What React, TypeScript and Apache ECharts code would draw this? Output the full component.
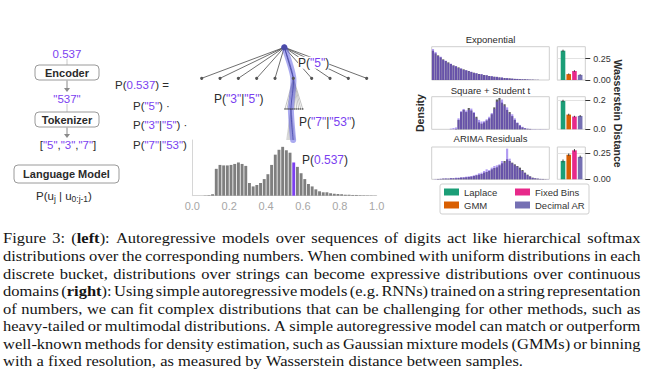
import React, { useEffect, useRef } from 'react';
import * as echarts from 'echarts';

const SANS = '"Liberation Sans", Arial, Helvetica, sans-serif';
const SERIF = '"Liberation Serif", "Times New Roman", serif';
const INK = '#2b2b2b';
const PURPLE = '#7b3ff0';

// ---------- centre histogram (distribution over numbers) ----------
const binCenters = [0.01, 0.03, 0.05, 0.07, 0.09, 0.11, 0.13, 0.15, 0.17, 0.19, 0.21, 0.23, 0.25, 0.27, 0.29, 0.31, 0.33, 0.35, 0.37, 0.39, 0.41, 0.43, 0.45, 0.47, 0.49, 0.51, 0.53, 0.55, 0.57, 0.59, 0.61, 0.63, 0.65, 0.67, 0.69, 0.71, 0.73, 0.75, 0.77, 0.79, 0.81, 0.83, 0.85, 0.87, 0.89, 0.91, 0.93, 0.95, 0.97, 0.99];
const binHeights = [0, 0, 0, 0.5, 1, 3, 55, 63, 62, 62, 63, 65, 68, 65, 61, 26, 19, 22, 26, 34, 44, 63, 84, 94, 100, 93, 88, 68, 59, 46, 34, 24, 19, 13, 9, 7, 7, 5, 4, 3.5, 3, 2, 2, 1.5, 1.5, 1, 0.8, 0.6, 0.5, 0.3];
const highlightCenter = 0.55;

// ---------- digit tree ----------
const digits = ['0', '1', '2', '3', '4', '5', '6', '7', '8', '9'];
const pathDigits = ['5', '3', '7'];

// ---------- right: density panels ----------
const panelTitles = ['Exponential', 'Square + Student t', 'ARIMA Residuals'];
const expData = [88, 80, 74, 68, 62, 57, 53, 48, 44, 41, 38, 34, 32, 29, 27, 24, 22, 20, 18, 17, 15, 14, 12, 11, 10, 9, 8, 7, 6, 5.5, 5, 4, 3.5, 3, 2.5, 2, 2, 1.5, 1, 1, 0.5, 0.5, 0, 0, 0, 0];
const expModel = [93, 84, 72, 70, 60, 58, 50, 49, 43, 42, 36, 35, 30, 30, 26, 25, 21, 21, 17, 18, 14, 15, 11, 12, 9, 10, 7, 8, 5, 6, 4, 4.5, 3, 3.5, 2, 2.5, 1.5, 2, 1, 1, 0.5, 0.5, 0, 0, 0, 0];
const sqData = [0, 0, 0, 0, 0, 0, 0, 0, 0, 1, 30, 55, 62, 55, 68, 60, 52, 40, 22, 18, 22, 28, 35, 48, 70, 95, 100, 85, 80, 62, 55, 42, 30, 20, 12, 6, 3, 1.5, 1, 0, 0, 0, 0, 0, 0, 0];
const sqModel = [0, 0, 0, 0, 0, 0, 0, 2, 4, 6, 35, 58, 65, 60, 62, 66, 55, 35, 30, 25, 26, 32, 40, 52, 65, 88, 92, 95, 75, 70, 50, 48, 35, 22, 14, 8, 4, 2, 1.5, 1, 1, 0.5, 1, 0.5, 0.5, 0];
const arimaData = [0, 0, 1, 1, 2, 2, 2, 3, 3, 3, 4, 5, 5, 6, 7, 8, 10, 12, 14, 16, 20, 22, 25, 30, 34, 36, 42, 48, 55, 60, 55, 50, 45, 40, 35, 28, 20, 14, 9, 5, 3, 2, 1, 1, 0.5, 0];
const arimaModel = [0, 1, 1, 2, 2, 3, 2, 4, 3, 5, 5, 6, 7, 8, 9, 10, 12, 14, 18, 20, 25, 30, 28, 35, 40, 42, 45, 55, 50, 92, 62, 48, 42, 38, 30, 25, 18, 12, 8, 4, 3, 2, 1.5, 1, 0.5, 0.5];

// ---------- right: Wasserstein distances ----------
const methods = ['Laplace', 'GMM', 'Fixed Bins', 'Decimal AR'];
const methodColors = ['#1b9e77', '#d95f02', '#e7298a', '#7570b3'];
const wassExp = [0.343, 0.069, 0.105, 0.06];
const wassExpErr = [0.012, 0.007, 0.009, 0.007];
const wassSq = [0.193, 0.1, 0.087, 0.091];
const wassSqErr = [0.008, 0.006, 0.005, 0.006];
const wassArima = [0.175, 0.234, 0.276, 0.214];
const wassArimaErr = [0.014, 0.012, 0.012, 0.012];
const wassTicks = [[0, 0.25], [0, 0.2], [0, 0.25]];
const wassTickDecimals = [2, 1, 2];

// ---------- caption ----------
const captionLines = [
  'Figure 3: (**left**): Autoregressive models over sequences of digits act like hierarchical softmax',
  'distributions over the corresponding numbers. When combined with uniform distributions in each',
  'discrete bucket, distributions over strings can become expressive distributions over continuous',
  'domains (**right**): Using simple autoregressive models (e.g. RNNs) trained on a string representation',
  'of numbers, we can fit complex distributions that can be challenging for other methods, such as',
  'heavy-tailed or multimodal distributions. A simple autoregressive model can match or outperform',
  'well-known methods for density estimation, such as Gaussian mixture models (GMMs) or binning',
  'with a fixed resolution, as measured by Wasserstein distance between samples.',
];

function makeMeasure() {
  const ctx = document.createElement('canvas').getContext('2d') as CanvasRenderingContext2D;
  return (text: string, weight: string, size: number, family: string) => {
    ctx.font = `${weight} ${size}px ${family}`;
    return ctx.measureText(text).width;
  };
}

function T(x: number, y: number, text: string, o: any = {}) {
  return {
    type: 'text', x, y, silent: true, z: o.z ?? 20, rotation: o.rotation ?? 0,
    style: {
      text, fill: o.fill ?? INK, fontSize: o.size ?? 11.5, fontFamily: o.family ?? SANS,
      fontWeight: o.weight ?? 'normal', align: o.align ?? 'center', verticalAlign: 'middle',
      backgroundColor: o.bg, padding: o.pad, rich: o.rich,
    },
  };
}

function R(parts: string[], x: number, y: number, size: number, o: any = {}) {
  const text = parts.map((p, i) => `{${i % 2 ? 'p' : 'k'}|${p}}`).join('');
  return T(x, y, text, {
    ...o, size, align: o.align ?? 'left',
    rich: {
      k: { fill: INK, fontSize: size, fontFamily: SANS },
      p: { fill: PURPLE, fontSize: size, fontFamily: SANS },
    },
  });
}

function box(x: number, y: number, w: number, h: number) {
  return { type: 'rect', z: 10, silent: true, shape: { x, y, width: w, height: h, r: 4 }, style: { fill: '#fff', stroke: '#9a9a9a', lineWidth: 1 } };
}
function arrow(x: number, y1: number, y2: number) {
  return [
    { type: 'line', z: 10, silent: true, shape: { x1: x, y1, x2: x, y2: y2 - 3 }, style: { stroke: '#8a8a8a', lineWidth: 1 } },
    { type: 'polygon', z: 10, silent: true, shape: { points: [[x - 3, y2 - 4], [x + 3, y2 - 4], [x, y2]] }, style: { fill: '#8a8a8a' } },
  ];
}

function buildGraphics() {
  const measure = makeMeasure();
  const g: any[] = [];
  // ---- left pipeline ----
  g.push({ type: 'line', z: 9, silent: true, shape: { x1: 67, y1: 59, x2: 67, y2: 65 }, style: { stroke: '#c8c8c8', lineWidth: 1 } });
  g.push(T(67, 54, '0.537', { fill: PURPLE, size: 11.5 }));
  g.push(box(35, 65, 64, 15), T(67, 72.5, 'Encoder', { weight: 'bold', size: 11 }));
  g.push(...arrow(67, 80.5, 92));
  g.push({ type: 'line', z: 9, silent: true, shape: { x1: 67, y1: 104, x2: 67, y2: 112 }, style: { stroke: '#c8c8c8', lineWidth: 1 } });
  g.push(T(67, 99, '"537"', { fill: PURPLE, size: 11.5 }));
  g.push(box(35, 112, 64, 15), T(67, 119.5, 'Tokenizer', { weight: 'bold', size: 11 }));
  g.push(...arrow(67, 127.5, 138));
  g.push(R(['[', `"${pathDigits[0]}"`, ',', `"${pathDigits[1]}"`, ',', `"${pathDigits[2]}"`, ']'], 68, 145, 11.5, { align: 'center' }));
  g.push(box(14, 165, 105, 18), T(66.5, 174, 'Language Model', { weight: 'bold', size: 11 }));
  const sub: [string, boolean][] = [['P(u', false], ['j', true], [' | u', false], ['0:j-1', true], [')', false]];
  let sx0 = 36;
  sub.forEach(([s, isSub]) => {
    const size = isSub ? 8.5 : 11.5;
    g.push(T(sx0, isSub ? 198.5 : 195.5, s, { align: 'left', size }));
    sx0 += measure(s, 'normal', size, SANS);
  });

  // ---- formula column ----
  g.push(R(['P(', '0.537', ') ='], 115, 85, 11.5));
  g.push(R(['P(', '"5"', ') ·'], 133, 106, 11.5));
  g.push(R(['P(', '"3"', '|', '"5"', ') ·'], 133, 125, 11.5));
  g.push(R(['P(', '"7"', '|', '"53"', ')'], 133, 145, 11.5));

  // ---- tree ----
  const root = [284.3, 47.3];
  const lvl1Y = 78.3, lvl2Y = 109, lvl3Y = 140;
  const l1 = digits.map((_, i) => [201.7 + 18.33 * i, lvl1Y]);
  const p1 = l1[digits.indexOf(pathDigits[0])];
  const l2 = digits.map((_, i) => [285 + 1.97 * i, lvl2Y]);
  const p2 = l2[digits.indexOf(pathDigits[1])];
  const l3 = digits.map((_, i) => [286.7 + 0.92 * i, lvl3Y]);
  const p3 = l3[digits.indexOf(pathDigits[2])];
  l1.forEach((c) => g.push({ type: 'line', z: 5, silent: true, shape: { x1: root[0], y1: root[1], x2: c[0], y2: c[1] }, style: { stroke: '#4a4a4a', lineWidth: 0.8 } }));
  l2.forEach((c) => g.push({ type: 'line', z: 5, silent: true, shape: { x1: p1[0], y1: p1[1], x2: c[0], y2: c[1] }, style: { stroke: '#9a9a9a', lineWidth: 0.6 } }));
  l3.forEach((c) => g.push({ type: 'line', z: 5, silent: true, shape: { x1: p2[0], y1: p2[1], x2: c[0], y2: c[1] }, style: { stroke: '#b0b0b0', lineWidth: 0.5 } }));
  g.push({ type: 'polyline', z: 6, silent: true, shape: { points: [root, p1, p2, p3], smooth: 0.25 }, style: { stroke: 'rgba(88,88,225,0.5)', lineWidth: 6, lineCap: 'round', lineJoin: 'round', fill: 'none' } });
  g.push({ type: 'polyline', z: 6, silent: true, shape: { points: [root, p1, p2, p3], smooth: 0.25 }, style: { stroke: 'rgba(60,60,170,0.7)', lineWidth: 1, fill: 'none' } });
  l1.forEach((c) => g.push({ type: 'circle', z: 7, silent: true, shape: { cx: c[0], cy: c[1], r: 1.6 }, style: { fill: '#555' } }));
  l2.forEach((c) => g.push({ type: 'circle', z: 7, silent: true, shape: { cx: c[0], cy: c[1], r: 0.7 }, style: { fill: '#222' } }));
  g.push({ type: 'circle', z: 7, silent: true, shape: { cx: root[0], cy: root[1], r: 3 }, style: { fill: '#4a4aa8' } });
  g.push(R(['P(', '"5"', ')'], 298, 62.7, 12, { bg: '#fff', z: 8 }));
  g.push(R(['P(', '"3"', '|', '"5"', ')'], 214, 99, 12));
  g.push(R(['P(', '"7"', '|', '"53"', ')'], 299, 122.3, 12));
  g.push(R(['P(', '0.537', ')'], 302, 160, 12));

  // ---- right panel texts ----
  const titleY = [39.3, 90, 138.3];
  panelTitles.forEach((t, i) => g.push(T(490.5, titleY[i], t, { size: 9.5 })));
  g.push(T(420, 113, 'Density', { weight: 'bold', size: 10.5, rotation: Math.PI / 2 }));
  g.push(T(618, 113.5, 'Wasserstein Distance', { weight: 'bold', size: 10.5, rotation: -Math.PI / 2 }));
  g.push({ type: 'rect', z: 1, silent: true, shape: { x: 440, y: 184, width: 149, height: 30, r: 2 }, style: { fill: '#fff', stroke: '#cfcfcf', lineWidth: 1 } });

  // ---- caption (justified, word by word) ----
  const size = 14.5;
  const left = 3, right = 640.5, top = 238.3, step = 17.55;
  const wordsOf = (line: string) => line.split(' ').map((w) => w.split('**').map((s, i) => ({ s, b: i % 2 === 1 })).filter((x) => x.s));
  const segW = (s: string, b: boolean) => measure(s, b ? 'bold' : 'normal', size, SERIF);
  const wordW = (segs: any[]) => segs.reduce((a, sg) => a + segW(sg.s, sg.b), 0);
  const space = segW(' ', false);
  const lastWords = wordsOf(captionLines[captionLines.length - 1]);
  const lastW = lastWords.reduce((a, w) => a + wordW(w), 0) + space * (lastWords.length - 1);
  const scale = 520 / lastW;
  captionLines.forEach((line, li) => {
    const words = wordsOf(line);
    const widths = words.map(wordW);
    const total = widths.reduce((a, b) => a + b, 0);
    const justify = li < captionLines.length - 1;
    const gap = justify ? ((right - left) / scale - total) / (words.length - 1) : space;
    let x = 0;
    const children: any[] = [];
    words.forEach((segs, wi) => {
      let px = x;
      segs.forEach((sg: any) => {
        children.push({ type: 'text', x: px, y: 0, silent: true, style: { text: sg.s, fill: '#141414', fontSize: size, fontFamily: SERIF, fontWeight: sg.b ? 'bold' : 'normal', align: 'left', verticalAlign: 'middle' } });
        px += segW(sg.s, sg.b);
      });
      x += widths[wi] + gap;
    });
    g.push({ type: 'group', x: left, y: top + step * li, scaleX: scale, children });
  });
  return g;
}

function buildOption() {
  const histTops = [46.7, 96.7, 147];
  const histH = [33.3, 32.6, 32.3];
  const histMax = [100, 104, 97];
  const wassMax = [0.39, 0.222, 0.308];
  const grids: any[] = [{ left: 192.3, top: 140, width: 184.4, height: 55.7 }];
  histTops.forEach((t, i) => grids.push({ left: 431.7, top: t, width: 117.6, height: histH[i], show: true, borderColor: '#cfcfcf', borderWidth: 1 }));
  histTops.forEach((t, i) => grids.push({ left: 557.3, top: t, width: 28, height: histH[i], show: true, borderColor: '#cfcfcf', borderWidth: 1 }));
  grids.forEach((gr) => { gr.containLabel = false; gr.outerBoundsMode = 'none'; });

  const xAxis: any[] = [{
    type: 'value', gridIndex: 0, min: 0, max: 1, interval: 0.2,
    axisLine: { show: true, lineStyle: { color: '#d6d6d6' } }, axisTick: { show: false }, splitLine: { show: false },
    axisLabel: { color: '#a6a6a6', fontSize: 11, fontFamily: SANS, margin: 5, formatter: (v: number) => v.toFixed(1) },
  }];
  const yAxis: any[] = [{
    type: 'value', gridIndex: 0, min: 0, max: 114,
    axisLine: { show: true, lineStyle: { color: '#d6d6d6' } }, axisTick: { show: false }, axisLabel: { show: false }, splitLine: { show: false },
  }];
  const histSets = [[expData, expModel], [sqData, sqModel], [arimaData, arimaModel]];
  histSets.forEach((hs, i) => {
    xAxis.push({ type: 'category', gridIndex: 1 + i, data: hs[0].map((_, k) => String(k)), show: false });
    yAxis.push({ type: 'value', gridIndex: 1 + i, min: 0, max: histMax[i], show: false });
  });
  wassTicks.forEach((ticks, i) => {
    xAxis.push({ type: 'value', gridIndex: 4 + i, min: -1, max: 3.9, show: false });
    yAxis.push({
      type: 'value', gridIndex: 4 + i, position: 'right', min: 0, max: wassMax[i], interval: ticks[1],
      axisLine: { show: false, onZero: false },
      axisTick: { show: true, length: 5, customValues: ticks, lineStyle: { color: '#333', width: 1 } },
      axisLabel: {
        show: true, showMinLabel: true, showMaxLabel: true, margin: 8, fontSize: 9, color: '#333', fontFamily: SANS,
        formatter: (v: number) => (ticks.some((t) => Math.abs(t - v) < 1e-9) ? v.toFixed(wassTickDecimals[i]) : ''),
      },
      splitLine: { show: true, lineStyle: { color: '#e2e2e2', width: 1 } },
    });
  });

  const series: any[] = [{
    type: 'bar', name: 'P(number)', xAxisIndex: 0, yAxisIndex: 0, barWidth: 2.9,
    itemStyle: { color: '#7f7f7f' },
    data: binCenters.map((c, i) => ({ value: [c, binHeights[i]], itemStyle: c === highlightCenter ? { color: PURPLE } : undefined })),
  }];
  histSets.forEach((hs, i) => {
    series.push({ type: 'bar', name: 'data', xAxisIndex: 1 + i, yAxisIndex: 1 + i, data: hs[0], barGap: '-100%', barCategoryGap: '16%', itemStyle: { color: '#5e5e5e' } });
    series.push({ type: 'bar', name: 'model', xAxisIndex: 1 + i, yAxisIndex: 1 + i, data: hs[1], barGap: '-100%', barCategoryGap: '16%', itemStyle: { color: 'rgba(112,72,232,0.55)' } });
  });
  const wassSets = [[wassExp, wassExpErr], [wassSq, wassSqErr], [wassArima, wassArimaErr]];
  wassSets.forEach(([vals, errs], p) => {
    methods.forEach((m, k) => {
      series.push({ type: 'bar', name: m, xAxisIndex: 4 + p, yAxisIndex: 4 + p, barWidth: 4.6, barGap: '-100%', itemStyle: { color: methodColors[k] }, data: [[k, vals[k]]] });
    });
    series.push({
      type: 'custom', name: 'err', xAxisIndex: 4 + p, yAxisIndex: 4 + p, silent: true, z: 5,
      data: vals.map((v, k) => [k, v, errs[k]]),
      renderItem: (_params: any, api: any) => {
        const x = api.value(0), v = api.value(1), e = api.value(2);
        const a = api.coord([x, v + e]);
        const b = api.coord([x, v - e]);
        return { type: 'line', shape: { x1: a[0], y1: a[1], x2: b[0], y2: b[1] }, style: { stroke: '#3a3a3a', lineWidth: 1 } };
      },
    });
  });

  const legendBase = {
    orient: 'vertical', top: 186, padding: 0, itemWidth: 15, itemHeight: 7, itemGap: 1, icon: 'rect', selectedMode: false,
    textStyle: { fontSize: 9.5, color: '#333', fontFamily: SANS, lineHeight: 12 }, z: 5,
  };

  return {
    animation: false,
    backgroundColor: '#fff',
    textStyle: { fontFamily: SANS },
    grid: grids,
    xAxis, yAxis, series,
    legend: [
      { ...legendBase, left: 444, data: [methods[0], methods[1]] },
      { ...legendBase, left: 515, data: [methods[2], methods[3]] },
    ],
    graphic: { elements: buildGraphics() },
  };
}

export default function App() {
  const ref = useRef<HTMLDivElement>(null);
  useEffect(() => {
    const chart = echarts.init(ref.current as HTMLDivElement, null, { renderer: 'svg' });
    chart.setOption(buildOption() as any);
    return () => chart.dispose();
  }, []);
  return <div ref={ref} style={{ position: 'fixed', left: 0, top: 0, width: 645, height: 378, background: '#fff' }} />;
}
